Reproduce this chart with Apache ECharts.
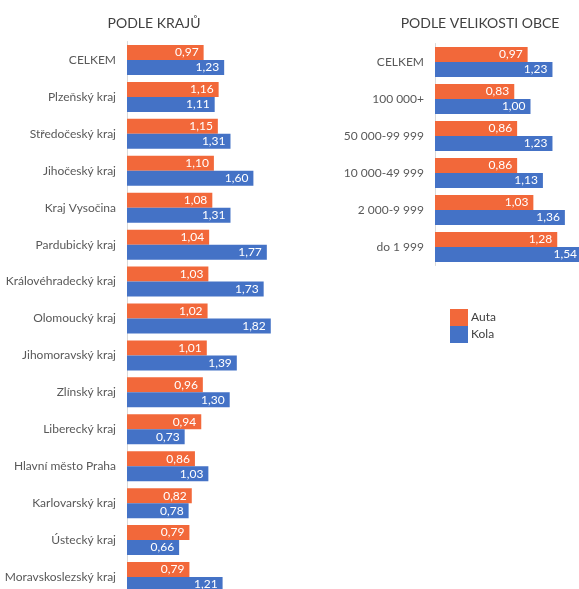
<!DOCTYPE html>
<html>
<head>
<meta charset="utf-8">
<script src="https://cdn.jsdelivr.net/npm/echarts@6/dist/echarts.min.js"></script>
<style>
  html, body { margin: 0; padding: 0; background: #fff; }
  #chart { width: 579px; height: 589px; }
</style>
</head>
<body>
<div id="chart"></div>
<script>
const kraje = [
  "CELKEM", "Plzeňský kraj", "Středočeský kraj", "Jihočeský kraj", "Kraj Vysočina",
  "Pardubický kraj", "Královéhradecký kraj", "Olomoucký kraj", "Jihomoravský kraj",
  "Zlínský kraj", "Liberecký kraj", "Hlavní město Praha", "Karlovarský kraj",
  "Ústecký kraj", "Moravskoslezský kraj",
];
const krajeAuta = [0.97, 1.16, 1.15, 1.10, 1.08, 1.04, 1.03, 1.02, 1.01, 0.96, 0.94, 0.86, 0.82, 0.79, 0.79];
const krajeKola = [1.23, 1.11, 1.31, 1.60, 1.31, 1.77, 1.73, 1.82, 1.39, 1.30, 0.73, 1.03, 0.78, 0.66, 1.21];

const obce = ["CELKEM", "100 000+", "50 000-99 999", "10 000-49 999", "2 000-9 999", "do 1 999"];
const obceAuta = [0.97, 0.83, 0.86, 0.86, 1.03, 1.28];
const obceKola = [1.23, 1.00, 1.23, 1.13, 1.36, 1.54];

const ORANGE = "#f2683a";
const BLUE = "#4472c6";
const FONT = "Lato";

const fmt = (p) => p.value.toFixed(2).replace(".", ",");

const chart = echarts.init(document.getElementById("chart"), null, { renderer: "canvas" });

const catAxis = (data, gridIndex) => ({
  type: "category",
  gridIndex,
  data,
  inverse: true,
  axisTick: { show: false },
  axisLine: { lineStyle: { color: "#d9d9d9" } },
  axisLabel: { color: "#595959", fontSize: 12, fontFamily: FONT, margin: 11 },
});
const valAxis = (gridIndex, max) => ({
  type: "value",
  gridIndex,
  min: 0,
  max,
  show: false,
});
const bar = (name, data, color, idx) => ({
  name,
  type: "bar",
  xAxisIndex: idx,
  yAxisIndex: idx,
  data,
  barWidth: 15,
  barGap: "0%",
  itemStyle: { color },
  label: {
    show: true,
    position: "insideRight",
    color: "#fff",
    fontSize: 12,
    fontFamily: FONT,
    formatter: fmt,
  },
});

chart.setOption({
  animation: false,
  title: [
    { text: "PODLE KRAJŮ", left: 149, top: 11, textAlign: "center",
      textStyle: { fontSize: 14, fontWeight: "normal", color: "#404040", fontFamily: FONT } },
    { text: "PODLE VELIKOSTI OBCE", left: 475, top: 11, textAlign: "center",
      textStyle: { fontSize: 14, fontWeight: "normal", color: "#404040", fontFamily: FONT } },
  ],
  legend: {
    orient: "vertical",
    left: 445,
    top: 304,
    itemWidth: 18,
    itemHeight: 17,
    itemGap: 0,
    icon: "rect",
    textStyle: { color: "#404040", fontSize: 12, fontFamily: FONT, padding: [0, 0, 0, -2] },
    data: ["Auta", "Kola"],
  },
  grid: [
    { left: 127, top: 41.5, width: 158, height: 554, outerBoundsMode: "none" },
    { left: 435, top: 43.5, width: 191, height: 222, outerBoundsMode: "none" },
  ],
  xAxis: [valAxis(0, 2), valAxis(1, 2)],
  yAxis: [catAxis(kraje, 0), catAxis(obce, 1)],
  series: [
    bar("Auta", krajeAuta, ORANGE, 0),
    bar("Kola", krajeKola, BLUE, 0),
    bar("Auta", obceAuta, ORANGE, 1),
    bar("Kola", obceKola, BLUE, 1),
  ],
});
</script>
</body>
</html>
